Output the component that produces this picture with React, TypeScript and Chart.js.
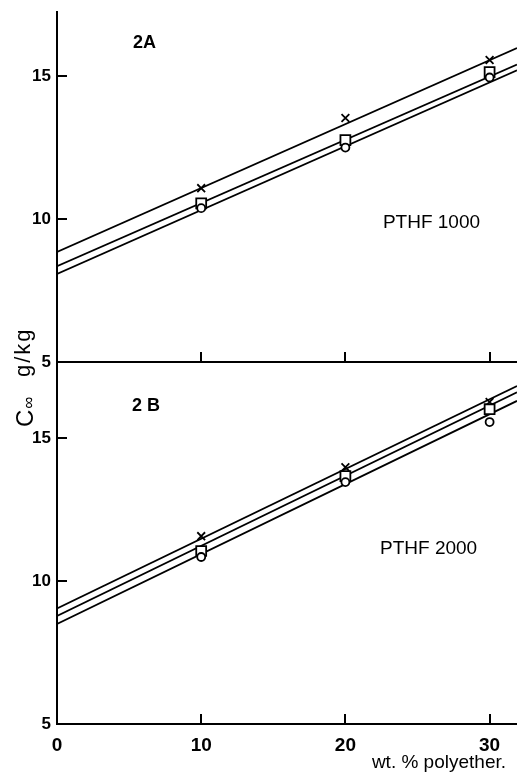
import React, { useEffect, useRef } from 'react';
import { Chart, registerables } from 'chart.js';

Chart.register(...registerables);

// ---------- data ----------
const xValues = [10, 20, 30];
const xTickValues = [0, 10, 20, 30];
const yTickValues = [5, 10, 15];
const fitX = [0, 31.9];

// Panel 2A (PTHF 1000)
const aCross = [11.08, 13.53, 15.56];
const aSquare = [10.55, 12.76, 15.14];
const aCircle = [10.38, 12.5, 14.95];
const aFitCross = [8.85, 15.98];
const aFitSquare = [8.35, 15.4];
const aFitCircle = [8.08, 15.2];

// Panel 2B (PTHF 2000)
const bCross = [11.57, 13.98, 16.26];
const bSquare = [11.05, 13.67, 16.01];
const bCircle = [10.84, 13.46, 15.56];
const bFitCross = [9.04, 16.82];
const bFitSquare = [8.78, 16.6];
const bFitCircle = [8.5, 16.3];

const xMin = 0;
const xMax = 31.9;
const aYRange = [5, 17.24];
const bYRange = [5, 17.66];

const panelALabel = '2A';
const panelBLabel = '2 B';
const seriesALabel = 'PTHF 1000';
const seriesBLabel = 'PTHF 2000';
const xTitle = 'wt. % polyether.';
const yTitleMain = 'C';
const yTitleSub = '\u221E';
const yTitleUnit = 'g/kg';

// ---------- helpers ----------
const W = 517;
const H = 775;
const FONT = '"Liberation Sans", Arial, Helvetica, sans-serif';

const pts = (xs: number[], ys: number[]) => xs.map((x, i) => ({ x, y: ys[i] }));

function buildDatasets(cross: number[], square: number[], circle: number[], fc: number[], fs: number[], fci: number[]) {
  const pointBase = {
    showLine: false,
    borderColor: '#000',
    pointBorderColor: '#000',
    pointBorderWidth: 1.8,
  };
  const lineBase = {
    showLine: true,
    pointRadius: 0,
    borderColor: '#000',
    borderWidth: 1.8,
    backgroundColor: '#000',
    fill: false,
  };
  return [
    { ...pointBase, label: 'circle', data: pts(xValues, circle), pointStyle: 'circle', pointRadius: 4, pointBackgroundColor: '#fff' },
    { ...pointBase, label: 'square', data: pts(xValues, square), pointStyle: 'rect', pointRadius: 7, pointBackgroundColor: '#fff' },
    { ...pointBase, label: 'cross', data: pts(xValues, cross), pointStyle: 'crossRot', pointRadius: 5.5, pointBackgroundColor: '#000' },
    { ...lineBase, label: 'fit x', data: pts(fitX, fc) },
    { ...lineBase, label: 'fit square', data: pts(fitX, fs) },
    { ...lineBase, label: 'fit circle', data: pts(fitX, fci) },
  ];
}

function makeChart(
  canvas: HTMLCanvasElement,
  opts: {
    datasets: any[];
    yRange: number[];
    padTop: number;
    padBottom: number;
    showXLabels: boolean;
    panelLabel: string;
    panelPos: number[];
    seriesLabel: string;
    seriesPos: number[];
    drawYTitle: boolean;
    drawXTitle: boolean;
  }
) {
  const annot = {
    id: 'annot',
    afterDraw(chart: any) {
      const { ctx, chartArea, scales } = chart;
      const x = scales.x;
      const y = scales.y;
      ctx.save();
      ctx.strokeStyle = '#000';
      ctx.fillStyle = '#000';
      ctx.lineWidth = 2;
      // inner ticks on x axis
      ctx.beginPath();
      xTickValues.forEach((v) => {
        if (v === 0) return;
        const px = Math.round(x.getPixelForValue(v));
        ctx.moveTo(px, chartArea.bottom);
        ctx.lineTo(px, chartArea.bottom - 10);
      });
      // inner ticks on y axis
      yTickValues.forEach((v) => {
        if (v === opts.yRange[0]) return;
        const py = Math.round(y.getPixelForValue(v));
        ctx.moveTo(chartArea.left, py);
        ctx.lineTo(chartArea.left + 10, py);
      });
      ctx.stroke();

      // panel label
      ctx.textAlign = 'left';
      ctx.textBaseline = 'alphabetic';
      ctx.font = `bold 18px ${FONT}`;
      ctx.fillText(opts.panelLabel, x.getPixelForValue(opts.panelPos[0]), y.getPixelForValue(opts.panelPos[1]));
      ctx.font = `19px ${FONT}`;
      ctx.fillText(opts.seriesLabel, x.getPixelForValue(opts.seriesPos[0]), y.getPixelForValue(opts.seriesPos[1]));

      if (opts.drawXTitle) {
        ctx.textAlign = 'right';
        ctx.font = `19px ${FONT}`;
        ctx.fillText(xTitle, chartArea.right - 11, chartArea.bottom + 44);
      }

      if (opts.drawYTitle) {
        // rotated y title, reading bottom-to-top
        ctx.translate(33, chartArea.bottom + 65);
        ctx.rotate(-Math.PI / 2);
        ctx.textAlign = 'left';
        ctx.font = `24px ${FONT}`;
        ctx.fillText(yTitleMain, 0, 0);
        const cw = ctx.measureText(yTitleMain).width;
        ctx.font = `17px ${FONT}`;
        ctx.fillText(yTitleSub, cw + 1, 1);
        ctx.font = `22px ${FONT}`;
        (ctx as any).letterSpacing = '2px';
        ctx.fillText(yTitleUnit, 50, -3);
      }
      ctx.restore();
    },
  };

  return new Chart(canvas, {
    type: 'scatter',
    data: { datasets: opts.datasets },
    plugins: [annot],
    options: {
      responsive: false,
      maintainAspectRatio: false,
      devicePixelRatio: 1,
      animation: false,
      events: [],
      layout: { autoPadding: false, padding: { top: opts.padTop, bottom: opts.padBottom, left: 0, right: 0 } },
      plugins: { legend: { display: false }, tooltip: { enabled: false }, title: { display: false } },
      scales: {
        x: {
          type: 'linear',
          min: xMin,
          max: xMax,
          grid: { display: true, drawOnChartArea: false, drawTicks: false },
          border: { display: true, color: '#000', width: 2 },
          afterBuildTicks: (s: any) => {
            s.ticks = xTickValues.map((v) => ({ value: v }));
          },
          afterFit: (s: any) => {
            s.height = opts.showXLabels ? 51 : 0;
            s.paddingLeft = 0;
            s.paddingRight = 0;
          },
          ticks: {
            display: opts.showXLabels,
            color: '#000',
            padding: 10,
            maxRotation: 0,
            autoSkip: false,
            font: { family: FONT, size: 19, weight: 'bold' },
            callback: (v: any) => String(v),
          },
        },
        y: {
          type: 'linear',
          min: opts.yRange[0],
          max: opts.yRange[1],
          grid: { display: true, drawOnChartArea: false, drawTicks: false },
          border: { display: true, color: '#000', width: 2 },
          afterBuildTicks: (s: any) => {
            s.ticks = yTickValues.map((v) => ({ value: v }));
          },
          afterFit: (s: any) => {
            s.width = 57;
            s.paddingTop = 0;
            s.paddingBottom = 0;
          },
          ticks: {
            color: '#000',
            padding: 6,
            autoSkip: false,
            font: { family: FONT, size: 17, weight: 'bold' },
            callback: (v: any) => String(v),
          },
        },
      },
    } as any,
  });
}

export default function App() {
  const topRef = useRef<HTMLCanvasElement>(null);
  const botRef = useRef<HTMLCanvasElement>(null);

  useEffect(() => {
    if (!topRef.current || !botRef.current) return;
    const top = makeChart(topRef.current, {
      datasets: buildDatasets(aCross, aSquare, aCircle, aFitCross, aFitSquare, aFitCircle),
      yRange: aYRange,
      padTop: 12,
      padBottom: H - 362,
      showXLabels: false,
      panelLabel: panelALabel,
      panelPos: [5.27, 15.98],
      seriesLabel: seriesALabel,
      seriesPos: [22.6, 9.69],
      drawYTitle: true,
      drawXTitle: false,
    });
    const bot = makeChart(botRef.current, {
      datasets: buildDatasets(bCross, bSquare, bCircle, bFitCross, bFitSquare, bFitCircle),
      yRange: bYRange,
      padTop: 362,
      padBottom: 0,
      showXLabels: true,
      panelLabel: panelBLabel,
      panelPos: [5.2, 15.94],
      seriesLabel: seriesBLabel,
      seriesPos: [22.4, 10.94],
      drawYTitle: false,
      drawXTitle: true,
    });
    return () => {
      top.destroy();
      bot.destroy();
    };
  }, []);

  const cs: React.CSSProperties = { position: 'absolute', left: 0, top: 0, width: W, height: H };
  return (
    <div style={{ position: 'absolute', left: 0, top: 0, width: W, height: H, background: '#fff' }}>
      <canvas ref={botRef} width={W} height={H} style={cs} />
      <canvas ref={topRef} width={W} height={H} style={cs} />
    </div>
  );
}
